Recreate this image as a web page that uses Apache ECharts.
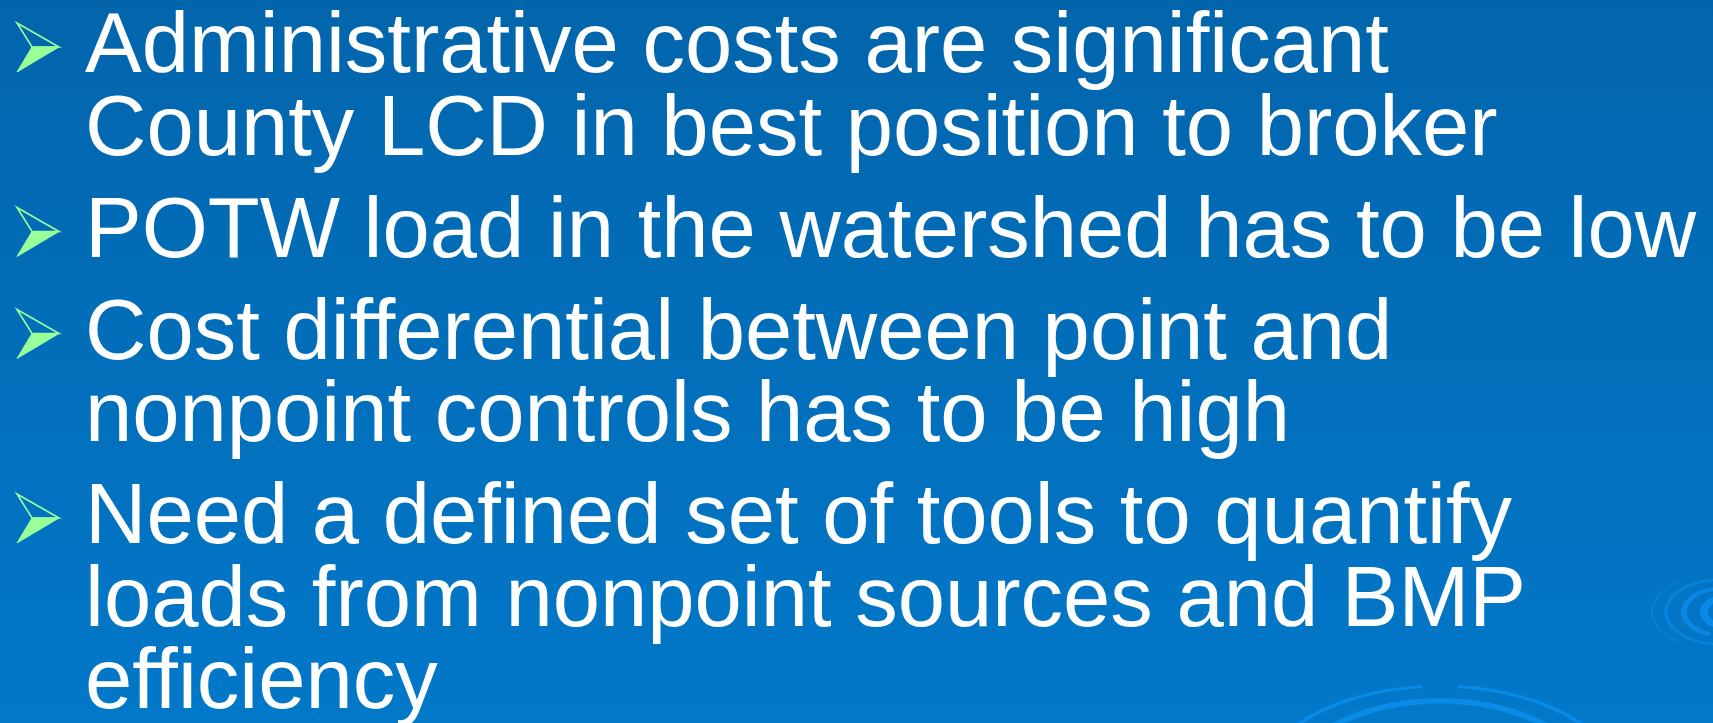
<!DOCTYPE html>
<html><head><meta charset="utf-8">
<script src="https://cdn.jsdelivr.net/npm/echarts@6/dist/echarts.min.js"></script>
<style>html,body{margin:0;padding:0;background:#0268b2;}#c{width:1713px;height:723px;}</style>
</head><body><div id="c"></div>
<script>
// Slide content: bullets and their wrapped lines
const bullet1 = ["Administrative costs are significant", "County LCD in best position to broker"];
const bullet2 = ["POTW load in the watershed has to be low"];
const bullet3 = ["Cost differential between point and", "nonpoint controls has to be high"];
const bullet4 = ["Need a defined set of tools to quantify", "loads from nonpoint sources and BMP", "efficiency"];
const bullets = [bullet1, bullet2, bullet3, bullet4];

const chart = echarts.init(document.getElementById('c'), null, {renderer: 'canvas'});
const W = 1713, H = 723;
const fontSize = 85, lineStep = 82.5, paraGap = 19.5, firstBaseline = 72, textX = 85;
const els = [];
// background
els.push({type: 'rect', shape: {x: 0, y: 0, width: W, height: H}, z: 0,
  style: {fill: new echarts.graphic.LinearGradient(0, 0, 0, 1, [
    {offset: 0, color: '#0265ac'}, {offset: 1, color: '#0278c9'}])}});
// ripples
const rip = '#0a8be8';
function ring(cx, cy, r, sy, a0, a1, lw, op) {
  els.push({type: 'arc', z: 1, shape: {cx: 0, cy: 0, r: r, startAngle: a0, endAngle: a1},
    x: cx, y: cy, scaleY: sy, silent: true,
    style: {stroke: rip, fill: null, lineWidth: lw, opacity: op}});
}
ring(1440, 800, 160, 0.62, Math.PI * 1.0, Math.PI * 2.0, 9, 1);
ring(1440, 800, 190, 0.6, Math.PI * 1.05, Math.PI * 1.47, 5, 0.95);
ring(1440, 800, 190, 0.6, Math.PI * 1.53, Math.PI * 1.98, 5, 0.95);
ring(1722, 612, 18, 0.75, 0, Math.PI * 2, 8, 0.95);
ring(1722, 612, 38, 0.62, Math.PI * 0.6, Math.PI * 1.7, 6, 0.85);
ring(1722, 612, 56, 0.58, Math.PI * 0.55, Math.PI * 1.6, 4, 0.65);
ring(1722, 612, 70, 0.55, Math.PI * 0.7, Math.PI * 1.3, 2, 0.5);

let base = firstBaseline;
bullets.forEach(function (lines, bi) {
  if (bi > 0) base += paraGap;
  const tipY = base - 25;
  // arrow bullet: filled lower half, outlined upper half
  els.push({type: 'polygon', z: 3, shape: {points: [[32, tipY], [59, tipY], [17, tipY + 25]]},
    style: {fill: '#99ff99', stroke: '#99ff99', lineWidth: 1}});
  els.push({type: 'polygon', z: 3, shape: {points: [[17, tipY - 24], [59, tipY], [32, tipY]]},
    style: {fill: null, stroke: '#99ff99', lineWidth: 1.6}});
  lines.forEach(function (ln) {
    els.push({type: 'text', z: 4, x: textX, y: base - 23,
      style: {text: ln, fill: '#ffffff', font: fontSize + 'px "Liberation Sans", Arial, sans-serif',
        verticalAlign: 'middle', align: 'left'}});
    base += lineStep;
  });
});
chart.setOption({animation: false, graphic: {elements: els}});
</script></body></html>
